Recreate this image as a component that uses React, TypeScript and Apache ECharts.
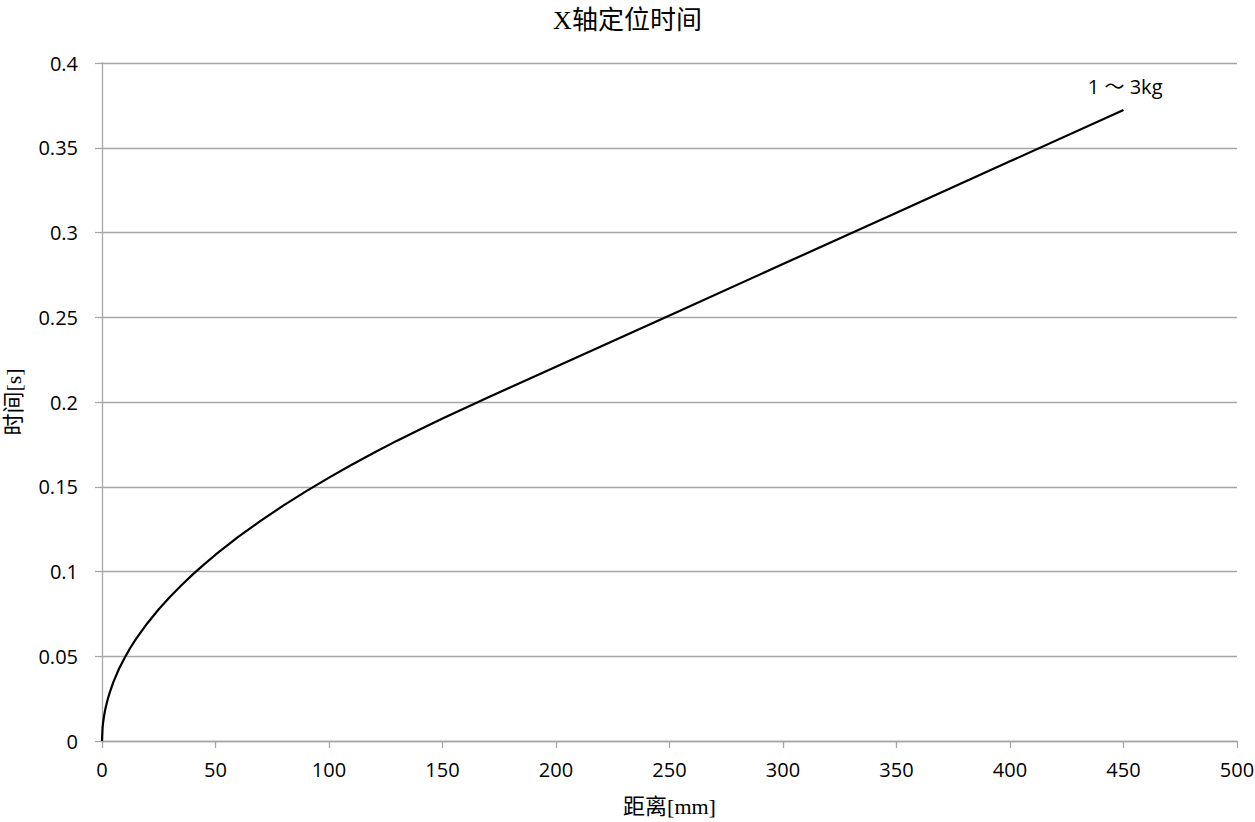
import React, { useEffect, useRef } from "react";
import * as echarts from "echarts";

const distanceMm = [0, 0.25, 0.5, 1, 1.5, 2.5, 3.5, 5, 7.5, 10, 12.5, 15, 20, 25, 30, 35, 40, 45, 50, 60, 70, 80, 90, 100, 110, 120, 130, 140, 150, 160, 170, 180, 200, 250, 300, 350, 400, 450];
const timeS = [0, 0.0078, 0.011, 0.0155, 0.019, 0.0245, 0.029, 0.0347, 0.0426, 0.0491, 0.055, 0.0602, 0.0695, 0.0777, 0.0851, 0.0919, 0.0983, 0.1042, 0.1099, 0.1204, 0.13, 0.139, 0.1474, 0.1554, 0.163, 0.1702, 0.1772, 0.1838, 0.1903, 0.1965, 0.2026, 0.2087, 0.2208, 0.2511, 0.2814, 0.3117, 0.342, 0.3723];
const yTickLabels = ["0", "0.05", "0.1", "0.15", "0.2", "0.25", "0.3", "0.35", "0.4"];
const titleText = "X轴定位时间";
const xName = "距离[mm]";
const yName = "时间[s]";
const seriesLabel = "1 ～ 3kg";

export default function App() {
  const ref = useRef<HTMLDivElement>(null);
  useEffect(() => {
    if (!ref.current) return;
    const chart = echarts.init(ref.current, null, { renderer: "svg" });
    const serif = "'Liberation Serif', 'DejaVu Serif', 'Noto Sans CJK SC', serif";
    const sans = "'Open Sans', 'Noto Sans', 'Noto Sans CJK SC', sans-serif";
    const gray = "#a6a6a6";
    chart.setOption({
      animation: false,
      backgroundColor: "#ffffff",
      title: {
        text: titleText,
        left: "center",
        top: 2,
        textStyle: { fontFamily: serif, fontSize: 26, fontWeight: "normal", color: "#000" },
      },
      grid: { left: 102, right: 18, top: 63, bottom: 81, containLabel: false, outerBoundsMode: "none" },
      xAxis: {
        type: "value",
        min: 0,
        max: 500,
        interval: 50,
        name: xName,
        nameLocation: "middle",
        nameGap: 54,
        nameTextStyle: { fontFamily: serif, fontSize: 22, color: "#000" },
        axisLine: { show: true, lineStyle: { color: gray, width: 1.3 } },
        axisTick: { show: true, inside: false, length: 7, lineStyle: { color: gray, width: 1.3 } },
        axisLabel: { fontFamily: sans, fontSize: 20, color: "#000", margin: 18 },
        splitLine: { show: false },
      },
      yAxis: {
        type: "value",
        min: 0,
        max: 0.4,
        interval: 0.05,
        name: yName,
        nameLocation: "middle",
        nameGap: 78,
        nameRotate: 90,
        nameTextStyle: { fontFamily: serif, fontSize: 22, color: "#000" },
        axisLine: { show: true, lineStyle: { color: gray, width: 1.3 } },
        axisTick: { show: true, inside: false, length: 7, lineStyle: { color: gray, width: 1.3 } },
        axisLabel: {
          fontFamily: sans,
          fontSize: 20,
          color: "#000",
          margin: 24,
          formatter: (v: number) => yTickLabels[Math.round(v / 0.05)] ?? String(v),
        },
        splitLine: { show: true, lineStyle: { color: gray, width: 1.3 } },
      },
      series: [
        {
          type: "line",
          name: seriesLabel,
          data: distanceMm.map((d, i) => [d, timeS[i]]),
          showSymbol: false,
          symbol: "none",
          smooth: false,
          lineStyle: { color: "#000", width: 2.2, join: "round" },
          endLabel: {
            show: true,
            formatter: seriesLabel,
            fontFamily: sans,
            fontSize: 20,
            color: "#000",
            align: "right",
            verticalAlign: "bottom",
            offset: [31, -13],
          },
        },
      ],
    });
    return () => chart.dispose();
  }, []);
  return (
    <div
      ref={ref}
      style={{ position: "absolute", left: 0, top: 0, width: 1255, height: 822 }}
    />
  );
}
